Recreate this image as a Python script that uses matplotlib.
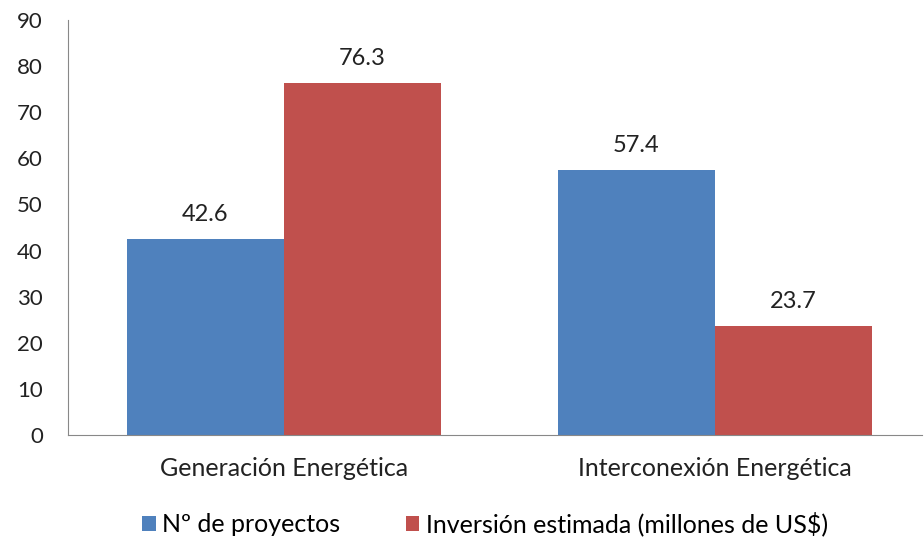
import numpy as np
import matplotlib.pyplot as plt

categories = ["Generación Energética", "Interconexión Energética"]
series_names = ["Nº de proyectos", "Inversión estimada (millones de US$)"]
proyectos = [42.6, 57.4]
inversion = [76.3, 23.7]
colors = ["#4F81BD", "#C0504D"]

plt.rcParams['font.family'] = ['Lato', 'DejaVu Sans']

fig = plt.figure(figsize=(9.24, 5.42), dpi=100)
ax = fig.add_axes([68/924, 1-435/542, 854/924, 415/542])

x = np.arange(len(categories))
w = 0.364
bars1 = ax.bar(x - w/2, proyectos, w, color=colors[0], label=series_names[0])
bars2 = ax.bar(x + w/2, inversion, w, color=colors[1], label=series_names[1])

for bars in (bars1, bars2):
    for b in bars:
        ax.text(b.get_x() + b.get_width()/2, b.get_height() + 3.0, f"{b.get_height():.1f}",
                ha='center', va='bottom', fontsize=17, color='#222222')

ax.set_xlim(-0.5, 1.48)
ax.set_ylim(0, 90)
ax.set_yticks(np.arange(0, 91, 10))
ax.set_xticks(x)
ax.set_xticklabels(categories, fontsize=18)
ax.tick_params(axis='both', length=0, colors='#222222')
ax.tick_params(axis='y', labelsize=16, pad=18)
ax.tick_params(axis='x', pad=16)
for s in ('top', 'right'):
    ax.spines[s].set_visible(False)
for s in ('left', 'bottom'):
    ax.spines[s].set_color('#888888')

fig.legend(handles=[bars1, bars2], labels=series_names, loc='center',
           bbox_to_anchor=(0.525, 1-524/542), ncol=2, frameon=False,
           fontsize=18, handlelength=0.55, handleheight=0.55, columnspacing=2.6,
           handletextpad=0.25)

fig.savefig("out.png", dpi=100)
